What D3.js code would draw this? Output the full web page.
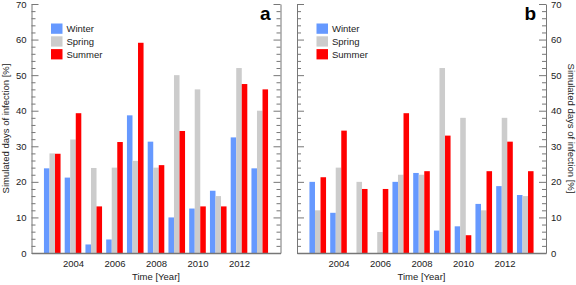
<!DOCTYPE html>
<html>
<head>
<meta charset="utf-8">
<script src="https://cdn.jsdelivr.net/npm/d3@7"></script>
<style>
  body { margin: 0; background: #fff; }
  svg { display: block; font-family: "Liberation Sans", Arial, sans-serif; }
  .axis text { font-size: 9.5px; fill: #222; }
  .axis path, .axis line { stroke: #777; }
</style>
</head>
<body>
<script>
// Data
const years = [2003, 2004, 2005, 2006, 2007, 2008, 2009, 2010, 2011, 2012, 2013];
const seasons = ['Winter', 'Spring', 'Summer'];
const seasonColors = ['#6699ff', '#cccccc', '#ff0000'];

const winterA = [23.8, 21.2, 2.4, 3.8, 38.7, 31.3, 10.0, 12.5, 17.5, 32.5, 23.8];
const springA = [28.0, 31.9, 23.9, 24.0, 25.9, 24.0, 50.0, 46.0, 16.0, 52.0, 40.0];
const summerA = [27.9, 39.3, 13.1, 31.2, 59.1, 24.7, 34.3, 13.1, 13.1, 47.5, 46.0];

const winterB = [20.0, 11.3, 0, 0, 20.0, 22.5, 6.3, 7.5, 13.8, 18.8, 16.3];
const springB = [12.0, 24.0, 20.0, 5.9, 22.0, 22.0, 52.0, 38.0, 12.0, 38.0, 16.0];
const summerB = [21.3, 34.4, 18.0, 18.0, 39.3, 23.0, 33.0, 5.0, 23.0, 31.3, 23.0];

const xTicks = [2004, 2006, 2008, 2010, 2012];
const yTicks = [0, 10, 20, 30, 40, 50, 60, 70];
const yMinorTicks = d3.range(0, 71, 2).filter(v => v % 10 !== 0);

const width = 576, height = 285;

const svg = d3.select('body').append('svg')
    .attr('width', width)
    .attr('height', height);

function drawPanel(cfg) {
    const { left, right, top, bottom, series, letter, labelSide } = cfg;

    const x = d3.scaleLinear().domain([2002, 2014]).range([left, right]);
    const y = d3.scaleLinear().domain([0, 70]).range([bottom, top]);

    const groupWidth = (x(2003) - x(2002)) * 0.8;
    const inner = d3.scaleBand()
        .domain(seasons)
        .range([-groupWidth / 2, groupWidth / 2]);

    const g = svg.append('g');

    // Bars
    seasons.forEach((s, i) => {
        g.append('g').selectAll('rect')
            .data(years.map((yr, j) => ({ year: yr, value: series[i][j] })))
            .join('rect')
            .attr('x', d => x(d.year) + inner(s))
            .attr('y', d => y(d.value))
            .attr('width', inner.bandwidth())
            .attr('height', d => y(0) - y(d.value))
            .attr('fill', seasonColors[i]);
    });

    // Left axis (ticks inward)
    const leftAxis = d3.axisLeft(y).tickValues(yTicks).tickSizeInner(-7).tickSizeOuter(0).tickPadding(5);
    if (labelSide !== 'left') leftAxis.tickFormat('');
    g.append('g').attr('class', 'axis')
        .attr('transform', `translate(${left},0)`)
        .call(leftAxis);
    g.append('g').attr('class', 'axis')
        .attr('transform', `translate(${left},0)`)
        .call(d3.axisLeft(y).tickValues(yMinorTicks).tickSizeInner(-4).tickSizeOuter(0).tickFormat(''))
        .select('.domain').remove();

    // Right axis (ticks inward)
    const rightAxis = d3.axisRight(y).tickValues(yTicks).tickSizeInner(-7).tickSizeOuter(0).tickPadding(5);
    if (labelSide !== 'right') rightAxis.tickFormat('');
    g.append('g').attr('class', 'axis')
        .attr('transform', `translate(${right},0)`)
        .call(rightAxis);
    g.append('g').attr('class', 'axis')
        .attr('transform', `translate(${right},0)`)
        .call(d3.axisRight(y).tickValues(yMinorTicks).tickSizeInner(-4).tickSizeOuter(0).tickFormat(''))
        .select('.domain').remove();

    // Bottom axis
    g.append('g').attr('class', 'axis')
        .attr('transform', `translate(0,${bottom})`)
        .call(d3.axisBottom(x).tickValues(xTicks).tickFormat(d3.format('d')).tickSize(0).tickPadding(7))
        .select('.domain').attr('stroke-width', 1.3);

    // Axis titles
    g.append('text')
        .attr('x', (left + right) / 2)
        .attr('y', 280)
        .attr('text-anchor', 'middle')
        .attr('font-size', 9.5)
        .attr('fill', '#222')
        .text('Time [Year]');

    const ty = (top + bottom) / 2;
    if (labelSide === 'left') {
        g.append('text')
            .attr('transform', `translate(8.5,${ty}) rotate(-90)`)
            .attr('text-anchor', 'middle')
            .attr('font-size', 9.5)
            .attr('fill', '#222')
            .text('Simulated days of infection [%]');
    } else {
        g.append('text')
            .attr('transform', `translate(568,${ty}) rotate(90)`)
            .attr('text-anchor', 'middle')
            .attr('font-size', 9.5)
            .attr('fill', '#222')
            .text('Simulated days of infection [%]');
    }

    // Panel letter
    g.append('text')
        .attr('x', right - 10)
        .attr('y', 20)
        .attr('text-anchor', 'end')
        .attr('font-size', 19)
        .attr('font-weight', 'bold')
        .attr('fill', '#000')
        .text(letter);

    // Legend
    const legend = g.append('g').attr('transform', `translate(${left + 19.5},23.5)`);
    seasons.forEach((s, i) => {
        const row = legend.append('g').attr('transform', `translate(0,${i * 12.8})`);
        row.append('rect')
            .attr('width', 11.5)
            .attr('height', 10.3)
            .attr('fill', seasonColors[i]);
        row.append('text')
            .attr('x', 15.5)
            .attr('y', 5.2)
            .attr('dy', '0.35em')
            .attr('font-size', 9.5)
            .attr('fill', '#222')
            .text(s);
    });
}

drawPanel({
    left: 31.5, right: 280.5, top: 4, bottom: 253,
    series: [winterA, springA, summerA],
    letter: 'a', labelSide: 'left'
});

drawPanel({
    left: 297, right: 546, top: 4, bottom: 253,
    series: [winterB, springB, summerB],
    letter: 'b', labelSide: 'right'
});
</script>
</body>
</html>
